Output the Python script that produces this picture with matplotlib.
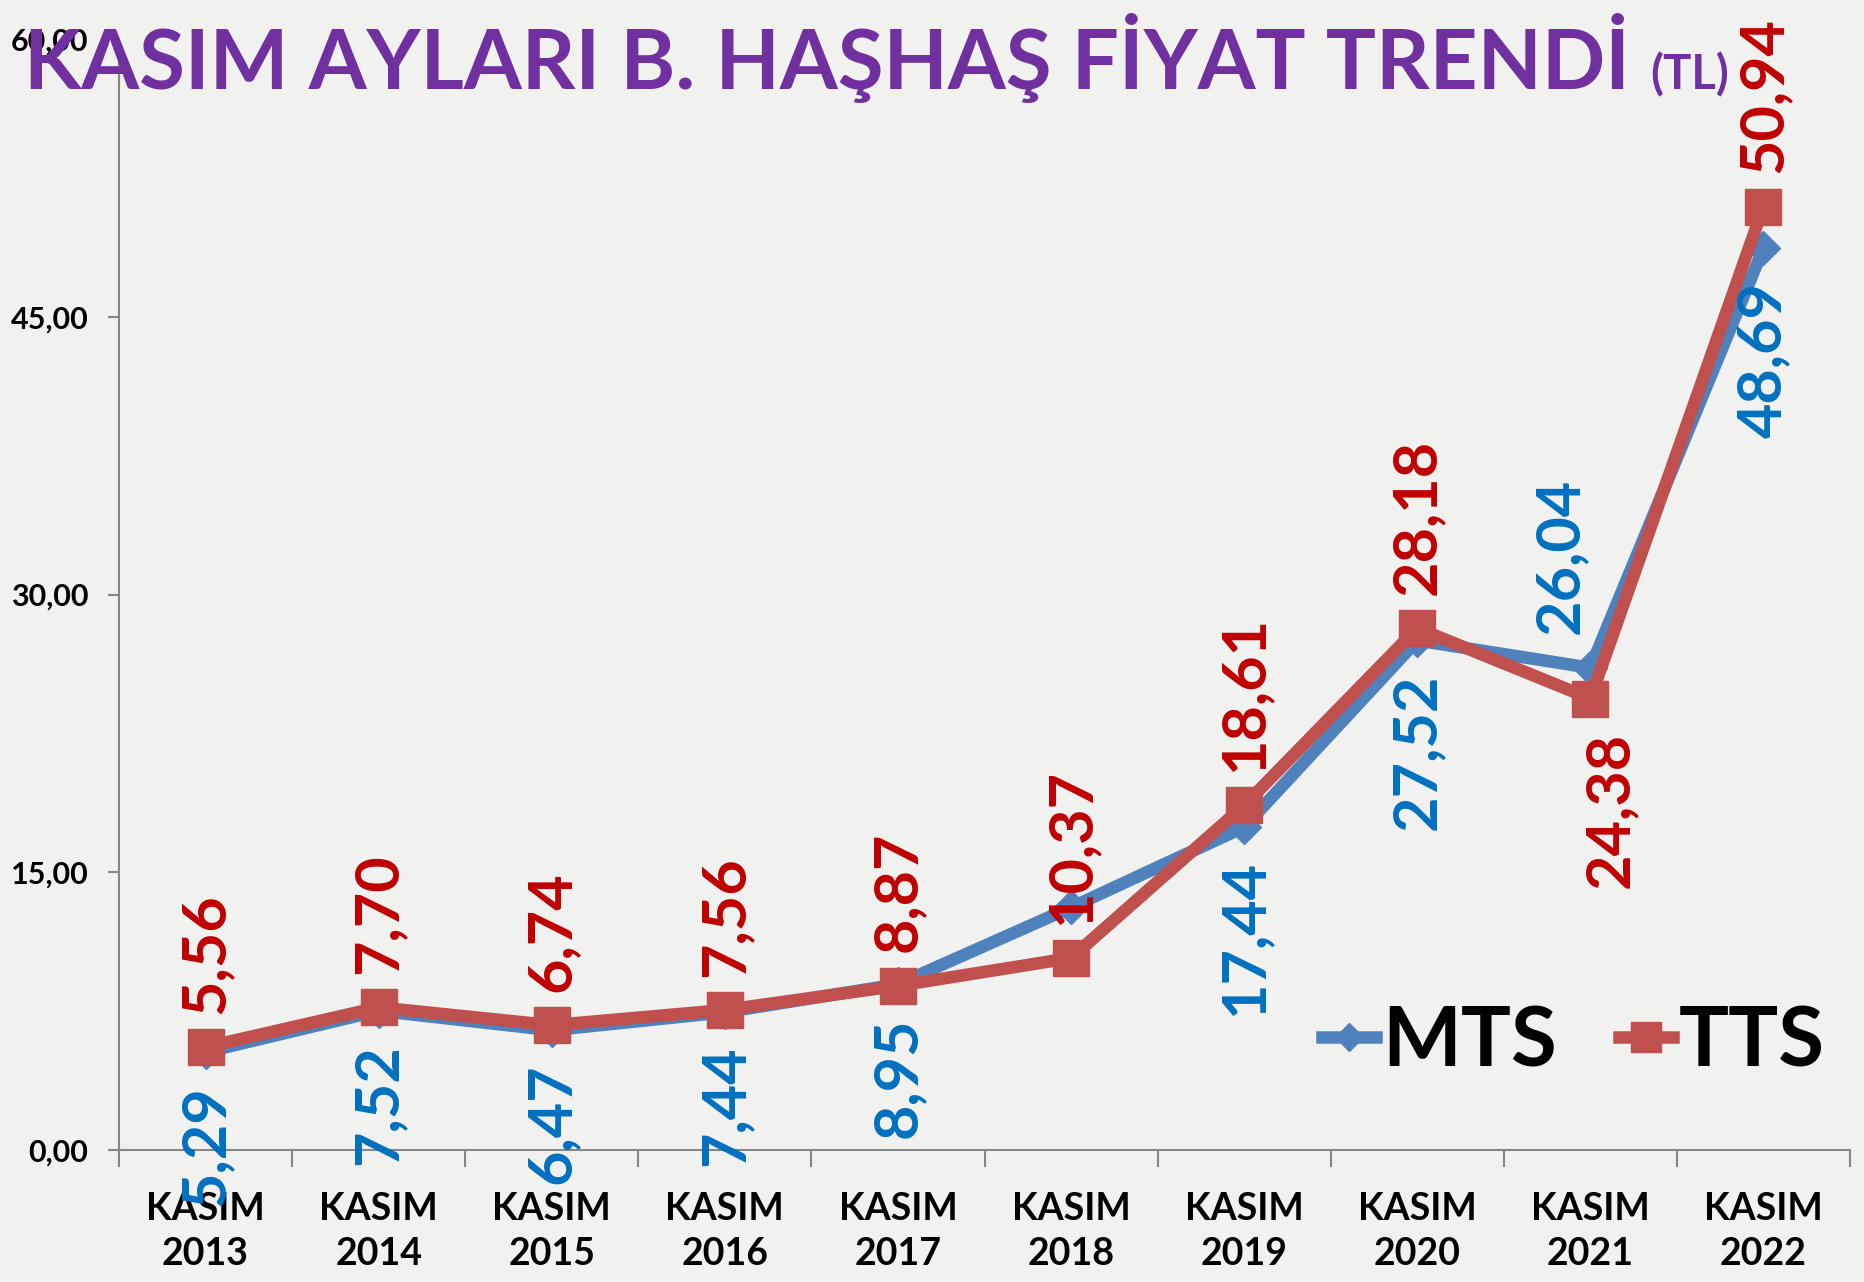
import numpy as np
import matplotlib
matplotlib.use('Agg')
import matplotlib.pyplot as plt
from matplotlib.ticker import FixedLocator

plt.rcParams['font.family'] = ['Lato', 'DejaVu Sans']

years = ['2013', '2014', '2015', '2016', '2017', '2018', '2019', '2020', '2021', '2022']
mts = [5.29, 7.52, 6.47, 7.44, 8.95, 13.10, 17.44, 27.52, 26.04, 48.69]
tts = [5.56, 7.70, 6.74, 7.56, 8.87, 10.37, 18.61, 28.18, 24.38, 50.94]

# where each value label sits relative to its point (None = no label)
mts_side = ['below', 'below', 'below', 'below', 'below', None, 'below', 'below', 'above', 'below']
tts_side = ['above', 'above', 'above', 'above', 'above', 'above', 'above', 'above', 'below', 'above']
mts_dx = [0, 0, 0, 0, 0, 0, 0, 0, -22, 0]
tts_dx = [0, 0, 0, 0, 0, 0, 0, 0, 14, 0]

fig = plt.figure(figsize=(18.64, 12.82), dpi=100)
fig.patch.set_facecolor('#F1F1F0')
ax = fig.add_axes([119 / 1864, 1 - 1150 / 1282, (1850 - 119) / 1864, (1150 - 39) / 1282])
ax.set_facecolor('none')

x = np.arange(len(years))
ax.plot(x, mts, color='#4F81BD', lw=9, marker='D', ms=17, solid_joinstyle='miter', label='MTS', zorder=3)
ax.plot(x, tts, color='#C0504D', lw=9, marker='s', ms=26, solid_joinstyle='miter', label='TTS', zorder=4)


def fmt(v):
    return f'{v:.2f}'.replace('.', ',')


def put_labels(vals, sides, dxs, color):
    for i, (v, s, dx) in enumerate(zip(vals, sides, dxs)):
        if s is None:
            continue
        dy = 24 if s == 'above' else -24
        ax.annotate(fmt(v), (x[i], v), xytext=(dx, dy), textcoords='offset points',
                    rotation=90, ha='center', va='bottom' if s == 'above' else 'top',
                    fontsize=44, fontweight='bold', color=color, zorder=5,
                    annotation_clip=False)


put_labels(mts, mts_side, mts_dx, '#0070C0')
put_labels(tts, tts_side, tts_dx, '#C00000')

ax.set_xlim(-0.5, len(years) - 0.5)
ax.set_ylim(0, 60)
ax.set_yticks(np.arange(0, 61, 15))
ax.set_yticklabels([fmt(t) for t in np.arange(0, 61, 15)], fontsize=22, fontweight='bold')
ax.set_xticks(x)
ax.set_xticklabels([f'KASIM\n{y}' for y in years], fontsize=27, fontweight='bold', linespacing=1.42)
ax.xaxis.set_minor_locator(FixedLocator(np.arange(-0.5, len(years), 1)))
ax.tick_params(axis='x', which='major', length=0, pad=30)
ax.tick_params(axis='x', which='minor', length=12, width=1.5, color='#868686')
ax.tick_params(axis='y', length=8, width=1.5, color='#868686', pad=14)
for side in ['top', 'right']:
    ax.spines[side].set_visible(False)
for side in ['left', 'bottom']:
    ax.spines[side].set_color('#868686')
    ax.spines[side].set_linewidth(1.5)

ax.legend(loc='center left', bbox_to_anchor=(1322 / 1864, 1 - 1043 / 1282),
          bbox_transform=fig.transFigure, ncol=2, frameon=False,
          prop={'size': 60, 'weight': 'bold'}, handlelength=0.65, handletextpad=0.07,
          columnspacing=0.75, markerscale=0.85, borderpad=0, borderaxespad=0)

title = fig.text(24 / 1864, 1 - 89 / 1282, 'KASIM AYLARI B. HAŞHAŞ FİYAT TRENDİ',
                 fontsize=60, fontweight='bold', color='#7030A0', va='baseline', ha='left', zorder=6)
fig.canvas.draw()
bb = title.get_window_extent()
fig.text((bb.x1 + 20) / 1864, 1 - 89 / 1282, '(TL)', fontsize=34, fontweight='bold',
         color='#7030A0', va='baseline', ha='left', zorder=6)

fig.savefig('out.png', dpi=100, facecolor=fig.get_facecolor())
